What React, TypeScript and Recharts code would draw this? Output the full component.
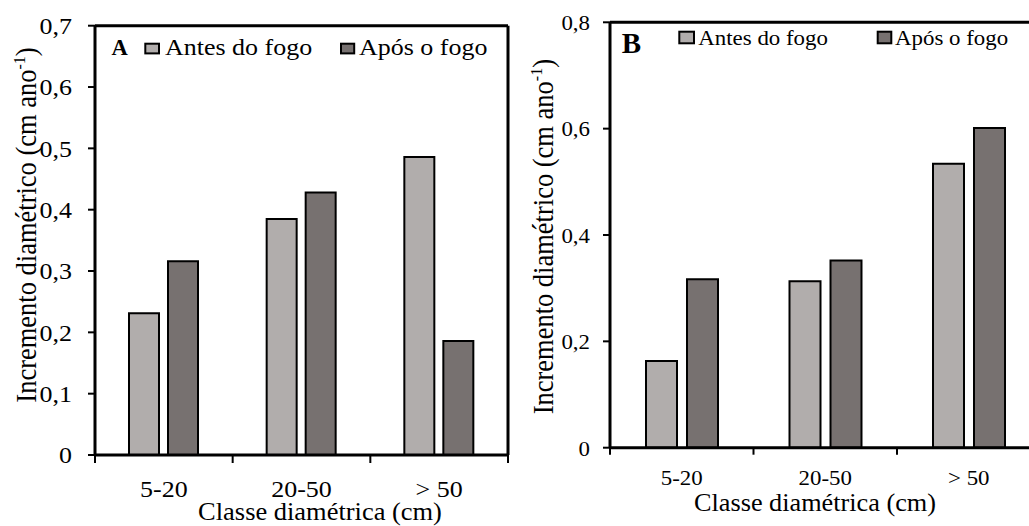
import React from 'react';
import { BarChart, Bar, XAxis, YAxis, Legend, Label } from 'recharts';

// ---------- data ----------
const categories = ['5-20', '20-50', '> 50'];
const seriesNames = ['Antes do fogo', 'Após o fogo'];
const antesA = [0.231, 0.385, 0.486];
const aposA = [0.316, 0.428, 0.186];
const antesB = [0.163, 0.313, 0.534];
const aposB = [0.317, 0.352, 0.601];
const yTicksA = [0, 0.1, 0.2, 0.3, 0.4, 0.5, 0.6, 0.7];
const yTicksB = [0, 0.2, 0.4, 0.6, 0.8];
const edgeTicks = [0, 0.5, 1, 1.5, 2, 2.5, 3];
const panelLetters = ['A', 'B'];
const xTitle = 'Classe diamétrica (cm)';
const yTitleMain = 'Incremento diamétrico (cm ano';
const yTitleSup = '-1';
const yTitleEnd = ')';

const COLORS = ['#b1adac', '#777170'];
const FONT = "'Liberation Serif', 'Times New Roman', Times, serif";

const buildRows = (a: number[], b: number[]) =>
  categories.map((c, i) => ({ cat: c, antes: a[i], apos: b[i] }));

// numeric position of a category (its index centre) for the boundary axis
const catPos = (d: any) => categories.indexOf(d.cat) + 0.5;

const fmt = (v: number) => (v === 0 ? '0' : v.toFixed(1).replace('.', ','));

type Cfg = {
  left: number; width: number; height: number;
  mTop: number; mRight: number; mBottom: number; yAxisWidth: number;
  yMax: number; barSize: number; barGap: number;
  tickFont: number; sx: number; yLabelGap: number; yLabelDy: number;
  xTickLen: number; xLabelDy: number;
  xTitleX: number; xTitleY: number; xTitleFont: number; xTitleSx: number;
  yTitleX: number; yTitleY: number;
  letterX: number; letterY: number; letterFont: number;
  legFont: number;
  sq: { x: number; y: number; w: number; h: number }[];
  txtX: number[]; txtY: number;
};

// plot box: top = mTop + 1, bottom = height - mBottom - 1, right = width - mRight - 1
const cfgA: Cfg = {
  left: 0, width: 520, height: 526,
  mTop: 24.7, mRight: 11, mBottom: 70, yAxisWidth: 95,
  yMax: 0.7, barSize: 30, barGap: 9,
  tickFont: 22.6, sx: 1.15, yLabelGap: 16, yLabelDy: 8.2,
  xTickLen: 8, xLabelDy: 41.5,
  xTitleX: 320, xTitleY: 519.5, xTitleFont: 24.5, xTitleSx: 1.08,
  yTitleX: 36, yTitleY: 225,
  letterX: 111.5, letterY: 55, letterFont: 22.6,
  legFont: 22.6,
  sq: [{ x: 145.3, y: 43.7, w: 13.7, h: 9.7 }, { x: 341, y: 43.7, w: 13.2, h: 9.7 }],
  txtX: [165, 359], txtY: 55,
};

const cfgB: Cfg = {
  left: 520, width: 530, height: 526,
  mTop: 21.3, mRight: 8.5, mBottom: 77.3, yAxisWidth: 90,
  yMax: 0.8, barSize: 31, barGap: 10,
  tickFont: 22, sx: 1.04, yLabelGap: 13, yLabelDy: 7.8,
  xTickLen: 7, xLabelDy: 37,
  xTitleX: 295, xTitleY: 510.5, xTitleFont: 25, xTitleSx: 1.05,
  yTitleX: 33, yTitleY: 236.7,
  letterX: 101.7, letterY: 53.3, letterFont: 29,
  legFont: 22,
  sq: [{ x: 159.3, y: 31.7, w: 14.7, h: 11.6 }, { x: 357.7, y: 31.7, w: 13.6, h: 11.6 }],
  txtX: [178.3, 375], txtY: 45,
};

const SText = ({ x, y, anchor, size, sx, weight, children }: any) => (
  <text
    transform={`translate(${x},${y}) scale(${sx},1)`}
    textAnchor={anchor}
    fontSize={size}
    fontFamily={FONT}
    fontWeight={weight || 'normal'}
    fill="#000"
  >
    {children}
  </text>
);

function Panel({ cfg, data, ticks, letter }: { cfg: Cfg; data: any[]; ticks: number[]; letter: string }) {
  const line = { stroke: '#000', strokeWidth: 3 };

  const yTick = (p: any) => (
    <SText x={p.x - cfg.yLabelGap} y={p.y + cfg.yLabelDy} anchor="end" size={cfg.tickFont} sx={cfg.sx}>
      {fmt(p.payload.value)}
    </SText>
  );

  const xTick = (p: any) => {
    const v = p.payload.value as number;
    if (Number.isInteger(v)) {
      return <line x1={p.x} x2={p.x} y1={p.y} y2={p.y + cfg.xTickLen} stroke="#000" strokeWidth={2} />;
    }
    return (
      <SText x={p.x} y={p.y + cfg.xLabelDy} anchor="middle" size={cfg.tickFont} sx={cfg.sx}>
        {categories[Math.floor(v)]}
      </SText>
    );
  };

  const legendContent = (props: any) => {
    const payload = props.payload || [];
    return (
      <svg width={cfg.width} height={cfg.height} style={{ position: 'absolute', left: 0, top: 0 }}>
        <SText x={cfg.letterX} y={cfg.letterY} anchor="start" size={cfg.letterFont} sx={1} weight="bold">
          {letter}
        </SText>
        {payload.map((e: any, i: number) => (
          <g key={i}>
            <rect x={cfg.sq[i].x} y={cfg.sq[i].y} width={cfg.sq[i].w} height={cfg.sq[i].h}
              fill={e.color} stroke="#000" strokeWidth={2} />
            <SText x={cfg.txtX[i]} y={cfg.txtY} anchor="start" size={cfg.legFont} sx={cfg.sx}>
              {e.value}
            </SText>
          </g>
        ))}
      </svg>
    );
  };

  return (
    <div style={{ position: 'absolute', left: cfg.left, top: 0, width: cfg.width, height: cfg.height }}>
      <BarChart
        width={cfg.width}
        height={cfg.height}
        data={data}
        margin={{ top: cfg.mTop, right: cfg.mRight, bottom: cfg.mBottom, left: 0 }}
        barSize={cfg.barSize}
        barGap={cfg.barGap}
      >
        <XAxis xAxisId="cat" dataKey="cat" type="category" hide height={0} />
        <XAxis
          xAxisId="edge"
          dataKey={catPos}
          type="number"
          domain={[0, 3]}
          ticks={edgeTicks}
          interval={0}
          height={1}
          tickSize={0}
          tickMargin={0}
          tickLine={false}
          axisLine={line}
          tick={xTick}
          allowDataOverflow
        >
          <Label
            content={() => (
              <SText x={cfg.xTitleX} y={cfg.xTitleY} anchor="middle" size={cfg.xTitleFont} sx={cfg.xTitleSx}>
                {xTitle}
              </SText>
            )}
          />
        </XAxis>
        <XAxis
          xAxisId="top"
          dataKey={catPos}
          orientation="top"
          type="number"
          domain={[0, 3]}
          height={1}
          tick={false}
          tickLine={false}
          axisLine={line}
          allowDataOverflow
        />
        <YAxis
          yAxisId="left"
          type="number"
          domain={[0, cfg.yMax]}
          ticks={ticks}
          interval={0}
          width={cfg.yAxisWidth}
          tickSize={7}
          tickMargin={0}
          tickLine={{ stroke: '#000', strokeWidth: 2 }}
          axisLine={line}
          tick={yTick}
          allowDataOverflow
        >
          <Label
            content={() => (
              <text
                transform={`translate(${cfg.yTitleX},${cfg.yTitleY}) rotate(-90) scale(1,1.1)`}
                textAnchor="middle"
                fontSize={26.5}
                fontFamily={FONT}
                fill="#000"
              >
                {yTitleMain}
                <tspan fontSize={16} dy={-10}>{yTitleSup}</tspan>
                <tspan fontSize={26.5} dy={10}>{yTitleEnd}</tspan>
              </text>
            )}
          />
        </YAxis>
        <YAxis
          yAxisId="right"
          dataKey="antes"
          orientation="right"
          type="number"
          domain={[0, 1]}
          width={1}
          tick={false}
          tickLine={false}
          axisLine={line}
          allowDataOverflow
        />
        <Legend
          layout="horizontal"
          verticalAlign="middle"
          align="center"
          wrapperStyle={{ top: 0, left: 0, width: cfg.width, height: cfg.height, pointerEvents: 'none' }}
          content={legendContent}
        />
        <Bar xAxisId="cat" yAxisId="left" dataKey="antes" name={seriesNames[0]} fill={COLORS[0]}
          stroke="#000" strokeWidth={2} isAnimationActive={false} />
        <Bar xAxisId="cat" yAxisId="left" dataKey="apos" name={seriesNames[1]} fill={COLORS[1]}
          stroke="#000" strokeWidth={2} isAnimationActive={false} />
      </BarChart>
    </div>
  );
}

export default function App() {
  return (
    <div style={{ position: 'absolute', left: 0, top: 0, width: 1029, height: 526, overflow: 'hidden', background: '#fff' }}>
      <Panel cfg={cfgA} data={buildRows(antesA, aposA)} ticks={yTicksA} letter={panelLetters[0]} />
      <Panel cfg={cfgB} data={buildRows(antesB, aposB)} ticks={yTicksB} letter={panelLetters[1]} />
    </div>
  );
}
